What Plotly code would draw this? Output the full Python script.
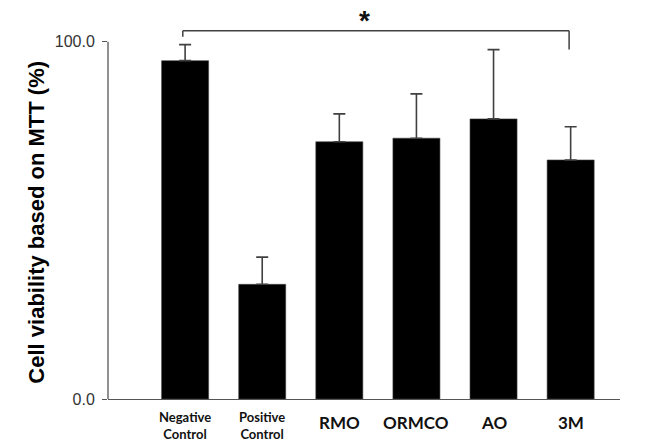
import plotly.graph_objects as go

categories = ["Negative<br>Control", "Positive<br>Control", "RMO", "ORMCO", "AO", "3M"]
viability = [94.7, 32.1, 72.0, 73.0, 78.4, 66.9]
error_up = [4.5, 7.6, 7.8, 12.4, 19.4, 9.3]
y_ticks = [0, 100]
y_ticklabels = ["0.0", "100.0"]
bracket_level = 103.1
bracket_left_end = 101.4
bracket_right_end = 97.8
star_x = 2.33
star_y = 106.0

idx = list(range(len(categories)))

fig = go.Figure()
fig.add_trace(go.Bar(
    x=idx, y=viability, width=0.61,
    marker=dict(color="#000000", line=dict(color="#444444", width=0.6)),
    error_y=dict(type="data", symmetric=False, array=error_up,
                 arrayminus=[0] * len(error_up),
                 color="#404040", thickness=1.6, width=6),
    showlegend=False,
))

# category labels
for i, c in enumerate(categories):
    two = "<br>" in c
    fig.add_annotation(
        x=i, y=0, xref="x", yref="y", text="<b>" + c + "</b>",
        showarrow=False, yanchor="middle",
        yshift=-26.5 if two else -23,
        font=dict(family="Lato, Carlito, sans-serif", size=13 if two else 17, color="#111111"),
    )

# y axis line (0..100 only)
fig.add_shape(type="line", xref="paper", yref="y", x0=0, x1=0, y0=0, y1=100,
              line=dict(color="#555555", width=1.3))

# significance bracket
fig.add_shape(type="line", xref="x", yref="y", x0=0 - 0.03, x1=5 - 0.02,
              y0=bracket_level, y1=bracket_level, line=dict(color="#404040", width=1.5))
fig.add_shape(type="line", xref="x", yref="y", x0=0 - 0.03, x1=0 - 0.03,
              y0=bracket_left_end, y1=bracket_level, line=dict(color="#404040", width=1.5))
fig.add_shape(type="line", xref="x", yref="y", x0=5 - 0.02, x1=5 - 0.02,
              y0=bracket_right_end, y1=bracket_level, line=dict(color="#404040", width=1.5))
fig.add_annotation(x=star_x, y=star_y, xref="x", yref="y", text="<b>*</b>",
                   showarrow=False, font=dict(family="Arial, Liberation Sans", size=28, color="#111111"),
                   yanchor="middle")

# y-axis title
fig.add_annotation(x=0, y=49.5, xref="paper", yref="y", text="<b>Cell viability based on MTT (%)</b>",
                   textangle=-90, showarrow=False, xshift=-86,
                   font=dict(family="Arial, Liberation Sans, sans-serif", size=22, color="#000000"))

fig.update_layout(
    width=645, height=442,
    margin=dict(l=108, r=25, t=6, b=43),
    plot_bgcolor="white", paper_bgcolor="white",
    bargap=0.39,
)
fig.update_xaxes(range=[-1, 5.64], showticklabels=False, ticks="",
                 showline=True, linecolor="#555555", linewidth=1.3,
                 showgrid=False, zeroline=False)
fig.update_yaxes(range=[0, 110], tickvals=y_ticks, ticktext=y_ticklabels,
                 ticks="outside", ticklen=5, tickcolor="#555555", tickwidth=1.3,
                 ticklabelstandoff=4,
                 showline=False, showgrid=False, zeroline=False,
                 tickfont=dict(family="Arial, Liberation Sans, sans-serif", size=16, color="#333333"))

fig.write_html("out.html", config={"displayModeBar": False},
               post_script="document.body.style.margin='0';document.body.style.padding='0';")
